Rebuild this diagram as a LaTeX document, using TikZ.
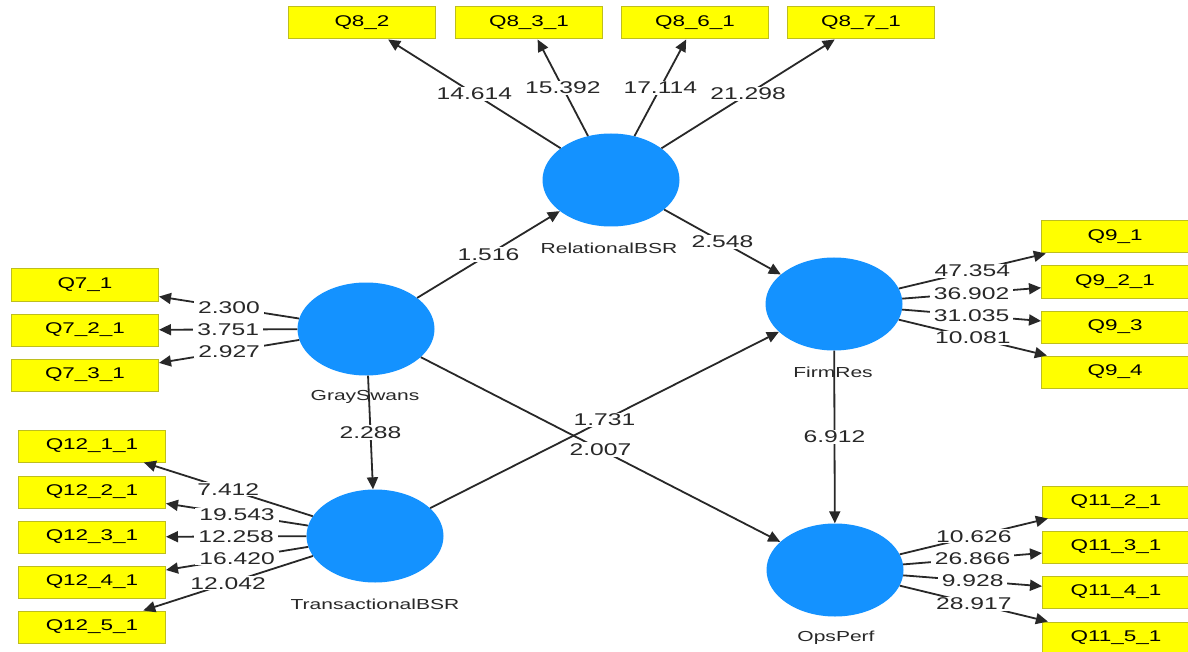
\documentclass[tikz,border=0pt]{standalone}
\usepackage{fontspec}
\setmainfont[FakeStretch=1.45]{Liberation Sans}
\usetikzlibrary{arrows.meta,shapes.geometric}

\definecolor{latentblue}{RGB}{20,146,255}
\definecolor{itemyellow}{RGB}{255,255,0}
\definecolor{itemedge}{RGB}{190,190,30}
\definecolor{inkgray}{RGB}{40,40,40}

\tikzset{
  latent/.style={ellipse, fill=latentblue, minimum width=137pt, minimum height=93pt, inner sep=0pt},
  item/.style={rectangle, fill=itemyellow, draw=itemedge, line width=1pt,
    minimum width=147pt, minimum height=32pt, inner sep=0pt,
    font=\fontsize{15.5}{17}\selectfont, text=black},
  lvname/.style={font=\fontsize{14.5}{16}\selectfont, text=inkgray, inner sep=1pt},
  link/.style={draw=inkgray, line width=1.8pt, -{Triangle[length=12pt,width=11pt]}},
  coef/.style={fill=white, inner xsep=4pt, inner ysep=1pt,
    font=\fontsize{17}{19}\selectfont, text=inkgray},
}

\begin{document}
\begin{tikzpicture}[x=1pt,y=-1pt]
  \useasboundingbox (0,0) rectangle (1188,652);
  \clip (0,0) rectangle (1188,652);
  \fill[white] (0,0) rectangle (1188,652);

  % latent variables
  \node[latent] (rel)   at (611,180) {};
  \node[latent] (gray)  at (366,329) {};
  \node[latent] (trans) at (375,536) {};
  \node[latent] (firm)  at (834,304) {};
  \node[latent] (ops)   at (835,570) {};

  % latent variable names
  \node[lvname] (relname)   at (609,248) {RelationalBSR};
  \node[lvname] (grayname)  at (365,397) {GraySwans};
  \node[lvname] (transname) at (375,604) {TransactionalBSR};
  \node[lvname] (firmname)  at (833,372) {FirmRes};
  \node[lvname] (opsname)   at (836,638) {OpsPerf};

  % indicators
  \foreach \n/\t/\x/\y in {
      q82/Q8\_2/362/23, q831/Q8\_3\_1/529/23, q861/Q8\_6\_1/695/23, q871/Q8\_7\_1/861/23,
      q71/Q7\_1/85/285, q721/Q7\_2\_1/85/330, q731/Q7\_3\_1/85/375,
      q1211/Q12\_1\_1/92/446, q1221/Q12\_2\_1/92/492, q1231/Q12\_3\_1/92/537,
      q1241/Q12\_4\_1/92/582, q1251/Q12\_5\_1/92/627,
      q91/Q9\_1/1115/237, q921/Q9\_2\_1/1115/282, q93/Q9\_3/1115/327, q94/Q9\_4/1115/372,
      q1121/Q11\_2\_1/1116/502, q1131/Q11\_3\_1/1116/547,
      q1141/Q11\_4\_1/1116/592, q1151/Q11\_5\_1/1116/638}
    \node[item] (\n) at (\x,\y) {\t};

  % path coefficients and outer loadings (t values)
  \def\edgelist{
      rel/q82/14.614, rel/q831/15.392, rel/q861/17.114, rel/q871/21.298,
      gray/q71/2.300, gray/q721/3.751, gray/q731/2.927,
      trans/q1211/7.412, trans/q1221/19.543, trans/q1231/12.258,
      trans/q1241/16.420, trans/q1251/12.042,
      firm/q91/47.354, firm/q921/36.902, firm/q93/31.035, firm/q94/10.081,
      ops/q1121/10.626, ops/q1131/26.866, ops/q1141/9.928, ops/q1151/28.917,
      gray/rel/1.516, rel/firm/2.548, gray/trans/2.288, gray/ops/2.007,
      trans/firm/1.731, firm/ops/6.912}

  \foreach \a/\b/\v in \edgelist
    \draw[link] (\a) -- (\b);
  \foreach \a/\b/\v in \edgelist
    \path (\a) -- node[coef] {\v} (\b);
\end{tikzpicture}
\end{document}
